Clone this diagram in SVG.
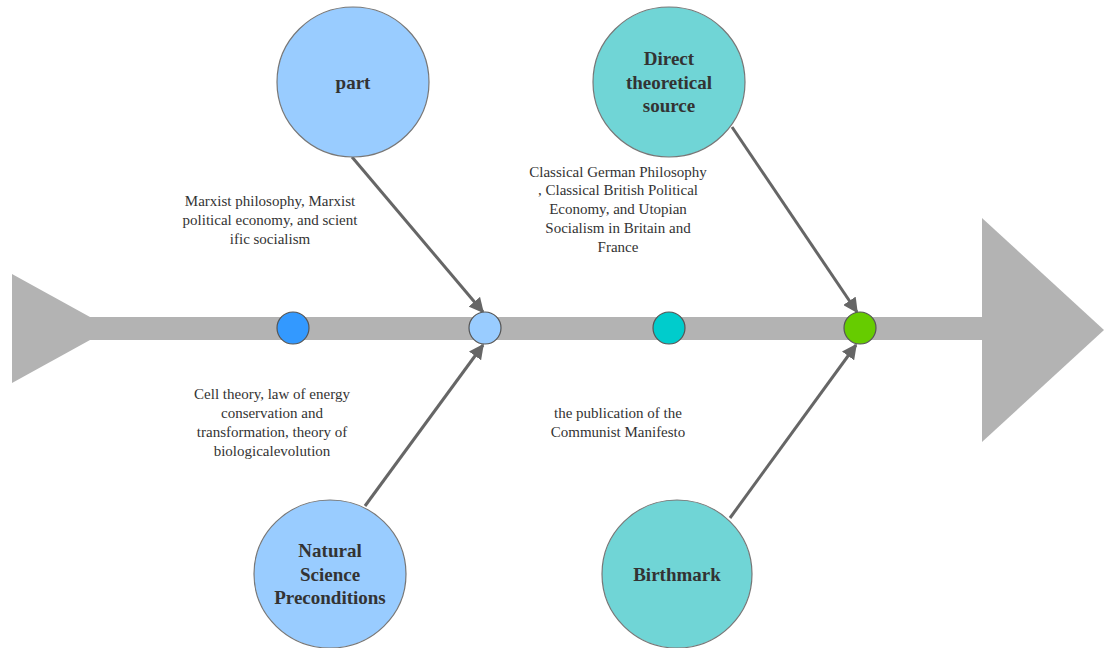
<svg xmlns="http://www.w3.org/2000/svg" width="1104" height="648" viewBox="0 0 1104 648">
  <style>
    .big { stroke: #777777; stroke-width: 1.2; }
    .dot { stroke: #555555; stroke-width: 1.2; }
    .title { font-family: "Liberation Serif", "Times New Roman", serif; font-size: 19px; font-weight: bold; fill: #333333; text-anchor: middle; }
    .note { font-family: "Liberation Serif", "Times New Roman", serif; font-size: 15px; fill: #333333; text-anchor: middle; }
    .link { stroke: #666666; stroke-width: 3; fill: none; marker-end: url(#head); }
  </style>
  <defs>
    <marker id="head" viewBox="0 0 10 10" refX="9" refY="5" markerWidth="5" markerHeight="5" orient="auto" markerUnits="strokeWidth">
      <path d="M0,0 L10,5 L0,10 z" fill="#666666"/>
    </marker>
  </defs>
  <rect width="1104" height="648" fill="#ffffff"/>

  <!-- spine -->
  <g id="spine" fill="#b3b3b3">
    <polygon points="12,274 90,317 90,340 12,383"/>
    <rect x="89" y="317" width="896" height="23"/>
    <polygon points="982,218 1104,330 982,442"/>
  </g>

  <!-- connectors -->
  <g id="connectors">
    <line class="link" x1="352" y1="157" x2="483" y2="312"/>
    <line class="link" x1="365" y1="506" x2="483" y2="345"/>
    <line class="link" x1="732" y1="127" x2="857" y2="312"/>
    <line class="link" x1="730" y1="518" x2="856" y2="345"/>
  </g>

  <!-- joints on the spine -->
  <g id="joint1"><ellipse class="dot" cx="293" cy="328" rx="16" ry="16" fill="#3399ff"/></g>
  <g id="joint2"><ellipse class="dot" cx="485" cy="328" rx="16" ry="16" fill="#99ccff"/></g>
  <g id="joint3"><ellipse class="dot" cx="669" cy="328" rx="16" ry="16" fill="#00cccc"/></g>
  <g id="joint4"><ellipse class="dot" cx="860" cy="328" rx="16" ry="16" fill="#66cc00"/></g>

  <!-- branch nodes -->
  <g id="node-part">
    <ellipse class="big" cx="353" cy="82" rx="76" ry="75" fill="#99ccff"/>
    <text class="title" x="353" y="89">part</text>
  </g>
  <g id="node-source">
    <ellipse class="big" cx="669" cy="82" rx="76" ry="75" fill="#70d5d6"/>
    <text class="title" x="669" y="65">Direct</text>
    <text class="title" x="669" y="89">theoretical</text>
    <text class="title" x="669" y="112">source</text>
  </g>
  <g id="node-science">
    <ellipse class="big" cx="330" cy="574" rx="76" ry="74" fill="#99ccff"/>
    <text class="title" x="330" y="557">Natural</text>
    <text class="title" x="330" y="581">Science</text>
    <text class="title" x="330" y="604">Preconditions</text>
  </g>
  <g id="node-birthmark">
    <ellipse class="big" cx="677" cy="574" rx="75" ry="74" fill="#70d5d6"/>
    <text class="title" x="677" y="581">Birthmark</text>
  </g>

  <!-- branch notes -->
  <g id="note-part">
    <text class="note" x="270" y="206">Marxist philosophy, Marxist</text>
    <text class="note" x="270" y="225">political economy, and scient</text>
    <text class="note" x="270" y="244">ific socialism</text>
  </g>
  <g id="note-source">
    <text class="note" x="618" y="177">Classical German Philosophy</text>
    <text class="note" x="618" y="195">, Classical British Political</text>
    <text class="note" x="618" y="214">Economy, and Utopian</text>
    <text class="note" x="618" y="233">Socialism in Britain and</text>
    <text class="note" x="618" y="252">France</text>
  </g>
  <g id="note-science">
    <text class="note" x="272" y="399">Cell theory, law of energy</text>
    <text class="note" x="272" y="418">conservation and</text>
    <text class="note" x="272" y="437">transformation, theory of</text>
    <text class="note" x="272" y="456">biologicalevolution</text>
  </g>
  <g id="note-birthmark">
    <text class="note" x="618" y="418">the publication of the</text>
    <text class="note" x="618" y="437">Communist Manifesto</text>
  </g>
</svg>
